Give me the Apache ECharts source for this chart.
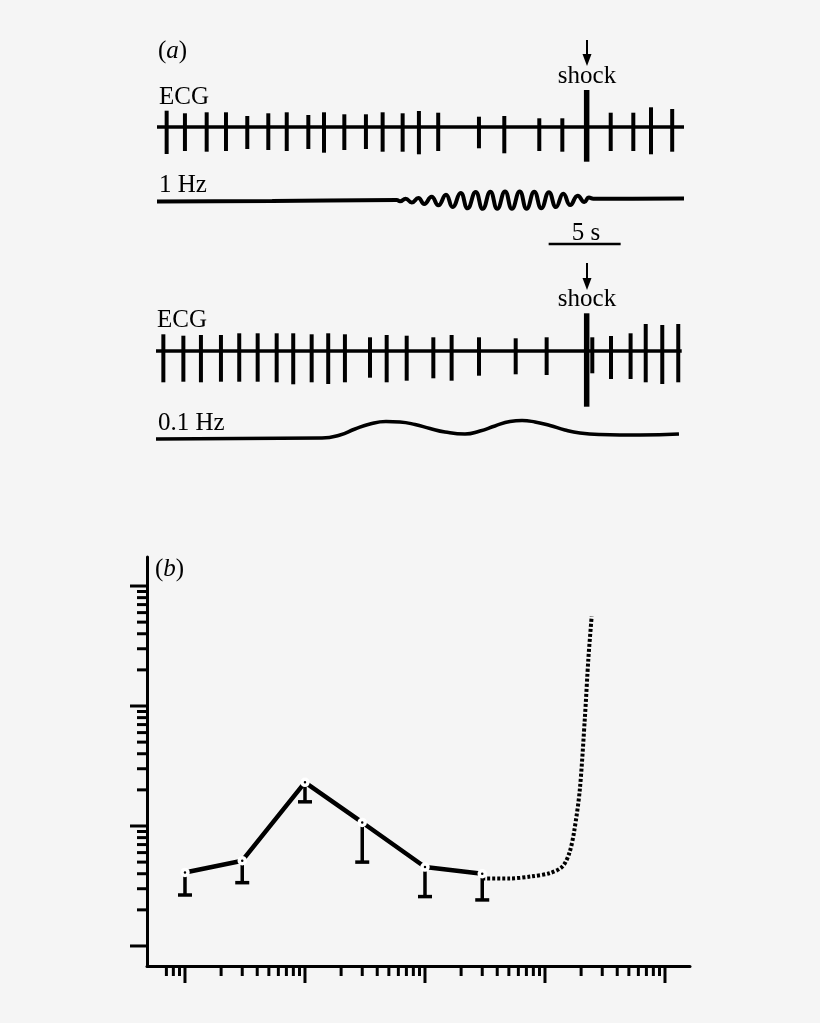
<!DOCTYPE html>
<html>
<head>
<meta charset="utf-8">
<script src="https://cdn.jsdelivr.net/npm/echarts@6/dist/echarts.min.js"></script>
<style>
  html, body { margin: 0; padding: 0; background: #f5f5f5; }
  #chart { width: 820px; height: 1023px; }
</style>
</head>
<body>
<div id="chart"></div>
<script>
// ---- panel (a): ECG traces, time in s, amplitude in arbitrary units (baseline = 0)
const ecgUpperTime = [0.67, 1.94, 3.45, 4.79, 6.27, 7.73, 9.01, 10.51, 11.60, 13.01, 14.51, 15.67, 17.06, 18.19, 19.53, 22.36, 24.12, 26.55, 28.15, 29.84, 31.51, 33.08, 34.31, 35.78];
const ecgUpperTop = [16.3, 13.7, 14.7, 14.7, 11, 13.7, 14.7, 12, 14.7, 12.7, 12.7, 14.7, 13.7, 16, 14.3, 10.3, 11, 8.7, 8.7, 37, 14.3, 14.3, 19.7, 18];
const ecgUpperBottom = [-27, -24, -24.7, -24, -22, -23, -24, -22, -25.7, -23, -22, -24.7, -24.7, -27.3, -24, -21.3, -26.3, -24, -24.7, -34.7, -24, -24, -27.3, -24.7];
const shockUpper = 29.84;

const ecgLowerTime = [0.58, 1.97, 3.19, 4.58, 5.85, 7.13, 8.45, 9.60, 10.88, 12.03, 13.19, 14.93, 16.09, 17.48, 19.33, 20.60, 22.50, 25.05, 27.20, 29.98, 30.37, 31.67, 33.03, 34.08, 35.23, 36.34];
const ecgLowerTop = [16.7, 15.3, 16, 16, 17.7, 17.7, 17.7, 17.7, 16.7, 17.7, 16.7, 13.7, 16, 15.3, 13.7, 16, 13.7, 12.7, 13.7, 37.7, 13.7, 15, 17.7, 27, 26, 27];
const ecgLowerBottom = [-31.3, -30.7, -31.3, -30.7, -30.7, -30.7, -31.3, -33.3, -31.3, -33, -31.3, -26.7, -31.3, -29.7, -27.3, -29.7, -24.7, -23.3, -24, -55.7, -22.3, -28, -28, -31.3, -33, -31.3];
const shockLower = 29.98;

const traceEnd = 36.6;

// filtered traces (extrema and turning points)
const hz1Time = [0, 8, 16.64, 16.88, 17.27, 17.69, 18.15, 18.56, 19.07, 19.54, 20.07, 20.53, 21.09, 21.57, 22.13, 22.62, 23.15, 23.63, 24.17, 24.65, 25.19, 25.67, 26.20, 26.69, 27.22, 27.71, 28.22, 28.70, 29.22, 29.68, 30.00, 30.30, 33, 36.6];
const hz1Amp = [-1.5, -1, 0, -1.3, 1.3, -2.5, 2, -4, 3.3, -5.3, 5.3, -7, 7, -8.3, 8, -8.8, 8.3, -8.8, 8.5, -8.8, 8.5, -8.8, 8.3, -8.3, 7.7, -7, 6.3, -5, 4.3, -2, 2.4, 1.3, 1.3, 1.5];

const hz01Time = [0.07, 11.6, 12.85, 13.89, 14.93, 16.04, 17.01, 18.06, 19.10, 20.14, 21.53, 22.57, 23.61, 24.65, 25.49, 26.39, 27.43, 28.47, 29.51, 30.90, 33.68, 36.39];
const hz01Amp = [-1, 0, 3, 9, 14, 16.5, 16, 13.5, 9.5, 6, 4, 7, 12, 16.5, 17.5, 16, 12.5, 8, 5, 3.5, 3, 4];

const scaleBarStart = 27.2;   // s
const scaleBarLength = 5;     // s

// ---- panel (b): log-log plot
const measX = [1, 3, 10, 30, 100, 300];
const measY = [4.1, 5.14, 23.1, 10.7, 4.55, 4.0];
const measLow = [2.66, 3.37, 15.9, 5.0, 2.58, 2.42];

const extrapX = [300, 500, 770, 1100, 1400, 1600, 1750, 1950, 2150, 2300, 2450];
const extrapY = [3.65, 3.65, 3.8, 4.05, 4.6, 6.0, 9, 20, 80, 250, 560];

const xMajorTicks = [1, 10, 100, 1000, 10000];
const xMinorTicks = [0.7, 0.8, 0.9, 2, 3, 4, 5, 6, 7, 8, 9, 20, 30, 40, 50, 60, 70, 80, 90,
  200, 300, 400, 500, 600, 700, 800, 900, 2000, 3000, 4000, 5000, 6000, 7000, 8000, 9000];
const yMajorTicks = [1, 10, 100, 1000];
const yMinorTicks = [2, 3, 4, 5, 6, 7, 8, 9, 20, 30, 40, 50, 60, 70, 80, 90, 200, 300, 400, 500, 600, 700, 800, 900];

const X_MIN = 0.4825, X_MAX = 16160, Y_MIN = 0.681, Y_MAX = 1745;

const serif = '"Liberation Serif", "DejaVu Serif", serif';
const ink = '#000';

const chart = echarts.init(document.getElementById('chart'));

function zip(a, b) { return a.map((v, i) => [v, b[i]]); }

function spikeSeries(idx, times, tops, bottoms, shockTime) {
  return {
    type: 'custom', xAxisIndex: idx, yAxisIndex: idx, silent: true, z: 3,
    data: times.map((t, i) => [t, tops[i], bottoms[i]]),
    renderItem: (params, api) => {
      const t = api.value(0);
      const a = api.coord([t, api.value(1)]);
      const b = api.coord([t, api.value(2)]);
      return {
        type: 'line',
        shape: { x1: a[0], y1: a[1], x2: b[0], y2: b[1] },
        style: { stroke: ink, lineWidth: t === shockTime ? 5.5 : 4 }
      };
    }
  };
}

function traceSeries(idx, data, width, smooth) {
  return {
    type: 'line', xAxisIndex: idx, yAxisIndex: idx, data: data, silent: true,
    symbol: 'none', smooth: smooth || false,
    lineStyle: { color: ink, width: width }
  };
}

function tickSeries(values, isX, len) {
  return {
    type: 'custom', xAxisIndex: 4, yAxisIndex: 4, silent: true, z: 5,
    data: values.map(v => isX ? [v, 1] : [1, v]),
    renderItem: (params, api) => {
      const cs = params.coordSys;
      if (isX) {
        const x = api.coord([api.value(0), 1])[0];
        const y = cs.y + cs.height;
        return { type: 'line', shape: { x1: x, y1: y, x2: x, y2: y + len }, style: { stroke: ink, lineWidth: 3 } };
      }
      const y = api.coord([1, api.value(1)])[1];
      const x = cs.x;
      return { type: 'line', shape: { x1: x, y1: y, x2: x - len, y2: y }, style: { stroke: ink, lineWidth: 3 } };
    }
  };
}

function hiddenValueAxis(idx, min, max) {
  return { type: 'value', gridIndex: idx, min: min, max: max, show: false };
}

function label(text, x, y, align) {
  return {
    type: 'text', x: x, y: y, silent: true,
    style: { text: text, font: '25px ' + serif, fill: ink, align: align || 'left', verticalAlign: 'middle' }
  };
}

function arrow(x, y0, y1) {
  return {
    type: 'group', silent: true,
    children: [
      { type: 'line', shape: { x1: x, y1: y0, x2: x, y2: y1 - 8 }, style: { stroke: ink, lineWidth: 2 } },
      { type: 'polygon', shape: { points: [[x - 4.5, y1 - 12], [x + 4.5, y1 - 12], [x, y1]] }, style: { fill: ink } }
    ]
  };
}

const option = {
  backgroundColor: '#f5f5f5',
  animation: false,
  grid: [
    { left: 157, top: 85, width: 527, height: 85 },    // upper ECG, baseline at y=127
    { left: 157, top: 170, width: 527, height: 85 },   // 1 Hz
    { left: 155, top: 290, width: 527, height: 130 },  // lower ECG, baseline at y=351
    { left: 155, top: 400, width: 527, height: 50 },   // 0.1 Hz
    { left: 147, top: 557, width: 543, height: 409 }   // panel (b)
  ],
  xAxis: [
    hiddenValueAxis(0, 0, traceEnd),
    hiddenValueAxis(1, 0, traceEnd),
    hiddenValueAxis(2, 0, traceEnd),
    hiddenValueAxis(3, 0, traceEnd),
    {
      type: 'log', logBase: 10, gridIndex: 4, min: X_MIN, max: X_MAX,
      axisLine: { show: true, lineStyle: { color: ink, width: 3 } },
      axisTick: { show: false }, axisLabel: { show: false }, splitLine: { show: false }
    }
  ],
  yAxis: [
    hiddenValueAxis(0, -43, 42),
    hiddenValueAxis(1, -55, 30),
    hiddenValueAxis(2, -69, 61),
    hiddenValueAxis(3, -12, 38),
    {
      type: 'log', logBase: 10, gridIndex: 4, min: Y_MIN, max: Y_MAX,
      axisLine: { show: true, lineStyle: { color: ink, width: 3 } },
      axisTick: { show: false }, axisLabel: { show: false }, splitLine: { show: false }
    }
  ],
  series: [
    // panel (a)
    traceSeries(0, [[0, 0], [traceEnd, 0]], 3.5),
    spikeSeries(0, ecgUpperTime, ecgUpperTop, ecgUpperBottom, shockUpper),
    traceSeries(1, zip(hz1Time, hz1Amp), 4, 0.5),
    traceSeries(1, [[scaleBarStart, -44], [scaleBarStart + scaleBarLength, -44]], 2.5),
    traceSeries(2, [[0.07, 0], [traceEnd - 0.02, 0]], 3.5),
    spikeSeries(2, ecgLowerTime, ecgLowerTop, ecgLowerBottom, shockLower),
    traceSeries(3, zip(hz01Time, hz01Amp), 3.5, 0.5),

    // panel (b)
    tickSeries(xMajorTicks, true, 17),
    tickSeries(xMinorTicks, true, 10),
    tickSeries(yMajorTicks, false, 17),
    tickSeries(yMinorTicks, false, 10),
    {
      type: 'custom', xAxisIndex: 4, yAxisIndex: 4, silent: true, z: 2,
      data: measX.map((x, i) => [x, measY[i], measLow[i]]),
      renderItem: (params, api) => {
        const top = api.coord([api.value(0), api.value(1)]);
        const bot = api.coord([api.value(0), api.value(2)]);
        const st = { stroke: ink, lineWidth: 3.5 };
        return {
          type: 'group',
          children: [
            { type: 'line', shape: { x1: top[0], y1: top[1], x2: bot[0], y2: bot[1] }, style: st },
            { type: 'line', shape: { x1: bot[0] - 7, y1: bot[1], x2: bot[0] + 7, y2: bot[1] }, style: st }
          ]
        };
      }
    },
    {
      type: 'line', xAxisIndex: 4, yAxisIndex: 4, silent: true, z: 3,
      data: zip(extrapX, extrapY), symbol: 'none', smooth: 0.3,
      lineStyle: { color: ink, width: 4, type: [3, 2] }
    },
    {
      type: 'line', xAxisIndex: 4, yAxisIndex: 4, silent: true, z: 4,
      data: zip(measX, measY),
      symbol: 'circle', symbolSize: 6, showAllSymbol: true,
      itemStyle: { color: ink, borderColor: '#fff', borderWidth: 3.5 },
      lineStyle: { color: ink, width: 4.5 }
    }
  ],
  graphic: [
    {
      type: 'text', x: 158, y: 51, silent: true,
      style: {
        text: '({i|a})', font: '25px ' + serif, fill: ink, verticalAlign: 'middle',
        rich: { i: { font: 'italic 25px ' + serif, fill: ink } }
      }
    },
    label('ECG', 159, 97),
    label('shock', 587, 76, 'center'),
    arrow(587, 40, 66),
    label('1 Hz', 159, 185),
    label('5 s', 586, 233, 'center'),
    label('shock', 587, 299, 'center'),
    arrow(587, 263, 290),
    label('ECG', 157, 320),
    label('0.1 Hz', 158, 423),
    {
      type: 'text', x: 155, y: 569, silent: true,
      style: {
        text: '({i|b})', font: '25px ' + serif, fill: ink, verticalAlign: 'middle',
        rich: { i: { font: 'italic 25px ' + serif, fill: ink } }
      }
    }
  ]
};

chart.setOption(option);
</script>
</body>
</html>
